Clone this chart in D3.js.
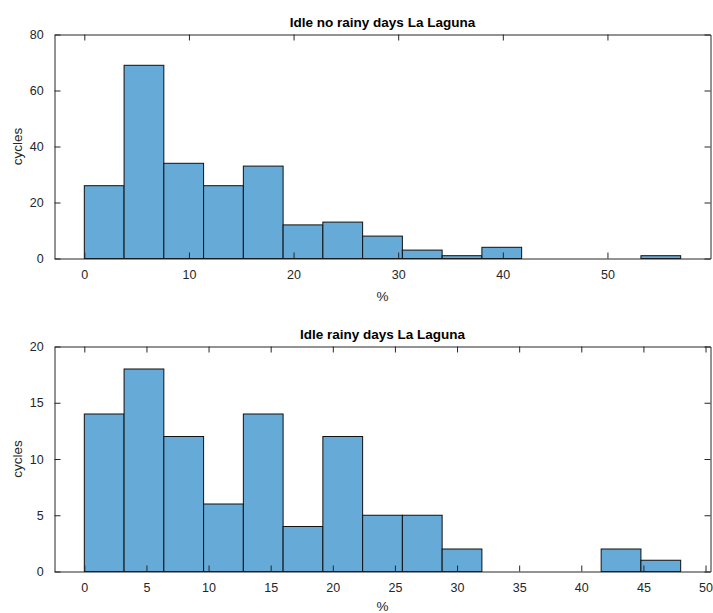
<!DOCTYPE html>
<html>
<head>
<meta charset="utf-8">
<script src="https://cdn.jsdelivr.net/npm/d3@7"></script>
<style>
  html, body { margin: 0; padding: 0; background: #fff; }
  svg { display: block; font-family: Arial, "Liberation Sans", Helvetica, sans-serif; }
</style>
</head>
<body>
<svg id="chart" width="713" height="613"></svg>
<script>
// Histogram of idle share (%) on days without rain: 15 bins of width 3.8 starting at 0
const dryTitle = "Idle no rainy days La Laguna";
const dryBinStart = 0;
const dryBinWidth = 3.8;
const dryCounts = [26, 69, 34, 26, 33, 12, 13, 8, 3, 1, 4, 0, 0, 0, 1];
const dryXTicks = [0, 10, 20, 30, 40, 50];
const dryYTicks = [0, 20, 40, 60, 80];
const dryXDomain = [-2.85, 59.85];
const dryYMax = 80;

// Histogram of idle share (%) on rainy days: 15 bins of width 3.2 starting at 0
const wetTitle = "Idle rainy days La Laguna";
const wetBinStart = 0;
const wetBinWidth = 3.2;
const wetCounts = [14, 18, 12, 6, 14, 4, 12, 5, 5, 2, 0, 0, 0, 2, 1];
const wetXTicks = [0, 5, 10, 15, 20, 25, 30, 35, 40, 45, 50];
const wetYTicks = [0, 5, 10, 15, 20];
const wetXDomain = [-2.4, 50.4];
const wetYMax = 20;

const xLabel = "%";
const yLabel = "cycles";

const axisColor = "#262626";
const barFill = "#66aad7";
const tickLen = 6;

const svg = d3.select("#chart");

function panel(cfg) {
  const { left, right, top, bottom } = cfg.box;
  const x = d3.scaleLinear().domain(cfg.xDomain).range([left, right]);
  const y = d3.scaleLinear().domain([0, cfg.yMax]).range([bottom, top]);

  const g = svg.append("g");

  const bins = cfg.counts.map((c, i) => ({
    x0: cfg.binStart + i * cfg.binWidth,
    x1: cfg.binStart + (i + 1) * cfg.binWidth,
    count: c
  }));

  // bars for the non-empty bins
  g.selectAll("rect.bar")
    .data(bins.filter(b => b.count > 0))
    .join("rect")
    .attr("class", "bar")
    .attr("x", d => x(d.x0))
    .attr("y", d => y(d.count))
    .attr("width", d => x(d.x1) - x(d.x0))
    .attr("height", d => y(0) - y(d.count))
    .attr("fill", barFill)
    .attr("stroke", "#111")
    .attr("stroke-width", 1);

  // boxed axes with inward ticks on all four sides
  const xAxisB = d3.axisBottom(x).tickValues(cfg.xTicks).tickSizeInner(-tickLen).tickSizeOuter(0).tickPadding(12);
  const gxb = g.append("g").attr("transform", `translate(0,${bottom})`).call(xAxisB);
  const xAxisT = d3.axisTop(x).tickValues(cfg.xTicks).tickSizeInner(-tickLen).tickSizeOuter(0).tickFormat("");
  const gxt = g.append("g").attr("transform", `translate(0,${top})`).call(xAxisT);
  const yAxisL = d3.axisLeft(y).tickValues(cfg.yTicks).tickSizeInner(-tickLen).tickSizeOuter(0).tickPadding(12);
  const gyl = g.append("g").attr("transform", `translate(${left},0)`).call(yAxisL);
  const yAxisR = d3.axisRight(y).tickValues(cfg.yTicks).tickSizeInner(-tickLen).tickSizeOuter(0).tickFormat("");
  const gyr = g.append("g").attr("transform", `translate(${right},0)`).call(yAxisR);

  [gxb, gxt, gyl, gyr].forEach(a => {
    a.select(".domain").attr("stroke", axisColor).attr("stroke-width", 1);
    a.selectAll(".tick line").attr("stroke", axisColor).attr("stroke-width", 1);
    a.selectAll(".tick text").attr("fill", axisColor).attr("font-size", 12.5)
      .attr("font-family", "Arial, 'Liberation Sans', sans-serif");
  });
  gxb.selectAll(".tick text").attr("dy", "0.71em");
  gyl.selectAll(".tick text").attr("dx", "0.1em");

  // title
  g.append("text")
    .attr("x", (left + right) / 2)
    .attr("y", top - 8)
    .attr("text-anchor", "middle")
    .attr("font-weight", "bold")
    .attr("font-size", 13.5)
    .attr("fill", "#000")
    .text(cfg.title);

  // axis labels
  g.append("text")
    .attr("x", (left + right) / 2)
    .attr("y", Math.min(bottom + 42, 611))
    .attr("text-anchor", "middle")
    .attr("font-size", 13.5)
    .attr("fill", axisColor)
    .text(xLabel);

  g.append("text")
    .attr("transform", `translate(${left - 33},${(top + bottom) / 2}) rotate(-90)`)
    .attr("text-anchor", "middle")
    .attr("font-size", 13.5)
    .attr("fill", axisColor)
    .text(yLabel);
}

panel({
  title: dryTitle, counts: dryCounts, binStart: dryBinStart, binWidth: dryBinWidth,
  xTicks: dryXTicks, yTicks: dryYTicks, xDomain: dryXDomain, yMax: dryYMax,
  box: { left: 54.5, right: 710.5, top: 34.5, bottom: 258.5 }
});

panel({
  title: wetTitle, counts: wetCounts, binStart: wetBinStart, binWidth: wetBinWidth,
  xTicks: wetXTicks, yTicks: wetYTicks, xDomain: wetXDomain, yMax: wetYMax,
  box: { left: 54.5, right: 710.5, top: 346.5, bottom: 571.5 }
});
</script>
</body>
</html>
